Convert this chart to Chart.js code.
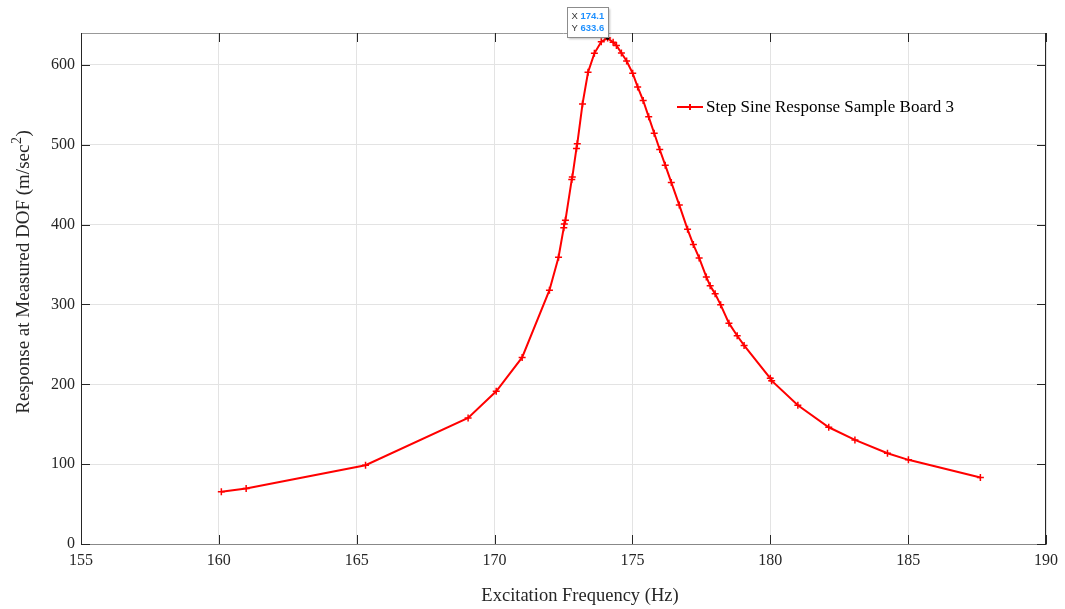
<!DOCTYPE html>
<html>
<head>
<meta charset="utf-8">
<script src="https://cdn.jsdelivr.net/npm/chart.js@4/dist/chart.umd.min.js"></script>
<style>
  html, body { margin: 0; padding: 0; background: #fff; }
  canvas { display: block; }
</style>
</head>
<body>
<canvas id="c" width="1065" height="609"></canvas>
<script>
// excitation frequency (Hz)
const freq = [160.09, 160.99, 165.32, 169.04, 170.06, 171.0, 171.99, 172.32, 172.51, 172.53,
  172.57, 172.80, 172.82, 172.97, 173.0, 173.19, 173.39, 173.62, 173.87, 174.1,
  174.30, 174.42, 174.60, 174.79, 175.01, 175.19, 175.39, 175.59, 175.79, 175.99,
  176.19, 176.41, 176.70, 177.0, 177.21, 177.42, 177.68, 177.82, 178.0, 178.20,
  178.50, 178.80, 179.05, 180.0, 180.05, 181.0, 182.12, 183.07, 184.25, 185.01, 187.62];
// response (m/sec^2)
const resp = [65.4, 69.5, 98.7, 157.9, 191.2, 233.7, 317.9, 359.1, 396.2, 400.8,
  405.4, 456.6, 459.5, 495.4, 501.2, 551.2, 590.8, 614.5, 629.1, 633.6,
  628.3, 624.5, 615, 605, 589.5, 572.5, 555.4, 535, 514.5, 494.1,
  474.5, 452.9, 424.5, 394.1, 375, 358.3, 334.5, 323.3, 313.3, 299.5,
  276.6, 260.8, 248.7, 207.5, 204.5, 173.7, 146.2, 130.4, 113.7, 105.4, 83.3];
const xTicks = [155, 160, 165, 170, 175, 180, 185, 190];
const yTicks = [0, 100, 200, 300, 400, 500, 600];
const seriesName = "Step Sine Response Sample Board 3";
const xTitle = "Excitation Frequency (Hz)";
const yTitle = ["Response at Measured DOF (m/sec", "2", ")"];
const tip = { x: 174.1, y: 633.6 };

const serif = "'Liberation Serif', 'Times New Roman', serif";

// box, inward ticks, axis titles, legend and datatip
const extras = {
  id: "extras",
  afterDraw(chart) {
    const ctx = chart.ctx;
    const a = chart.chartArea;
    const xs = chart.scales.x, ys = chart.scales.y;
    ctx.save();
    // top and right edges
    ctx.lineWidth = 1;
    ctx.strokeStyle = "#999";
    ctx.beginPath();
    ctx.moveTo(a.left, a.top + 0.5);
    ctx.lineTo(a.right, a.top + 0.5);
    ctx.stroke();
    ctx.strokeStyle = "#262626";
    ctx.beginPath();
    ctx.moveTo(a.right - 0.5, a.top);
    ctx.lineTo(a.right - 0.5, a.bottom);
    ctx.stroke();
    // ticks pointing in
    const tl = 9;
    ctx.beginPath();
    xTicks.forEach(v => {
      const px = Math.round(xs.getPixelForValue(v)) + 0.5;
      ctx.moveTo(px, a.bottom); ctx.lineTo(px, a.bottom - tl);
      ctx.moveTo(px, a.top); ctx.lineTo(px, a.top + tl);
    });
    yTicks.forEach(v => {
      const py = Math.round(ys.getPixelForValue(v)) + 0.5;
      ctx.moveTo(a.left, py); ctx.lineTo(a.left + tl, py);
      ctx.moveTo(a.right, py); ctx.lineTo(a.right - tl, py);
    });
    ctx.stroke();

    const fMain = "19px " + serif, fSup = "14px " + serif;
    // x title
    ctx.fillStyle = "#262626";
    ctx.font = "18.5px " + serif;
    ctx.textAlign = "center";
    ctx.textBaseline = "middle";
    ctx.fillText(xTitle, 580, 596);

    // y title with superscript
    ctx.save();
    ctx.translate(23, 272);
    ctx.rotate(-Math.PI / 2);
    ctx.textBaseline = "alphabetic";
    ctx.textAlign = "left";
    ctx.font = fMain;
    const w0 = ctx.measureText(yTitle[0]).width;
    const w2 = ctx.measureText(yTitle[2]).width;
    ctx.font = fSup;
    const w1 = ctx.measureText(yTitle[1]).width;
    const total = w0 + w1 + 1 + w2;
    let tx = -total / 2;
    ctx.font = fMain;
    ctx.fillText(yTitle[0], tx, 6);
    tx += w0 + 0.5;
    ctx.font = fSup;
    ctx.fillText(yTitle[1], tx, -2);
    tx += w1 + 0.5;
    ctx.font = fMain;
    ctx.fillText(yTitle[2], tx, 6);
    ctx.restore();

    // legend
    const lx = 677, ly = 107;
    ctx.strokeStyle = "#ff0000";
    ctx.lineWidth = 2;
    ctx.beginPath();
    ctx.moveTo(lx, ly); ctx.lineTo(lx + 26, ly);
    ctx.moveTo(lx + 13, ly - 3); ctx.lineTo(lx + 13, ly + 3);
    ctx.moveTo(lx + 10, ly); ctx.lineTo(lx + 16, ly);
    ctx.stroke();
    ctx.fillStyle = "#000";
    ctx.font = "17px " + serif;
    ctx.textBaseline = "middle";
    ctx.textAlign = "left";
    ctx.fillText(seriesName, lx + 29, ly + 1);

    // datatip
    const px = xs.getPixelForValue(tip.x), py = ys.getPixelForValue(tip.y);
    ctx.fillStyle = "#000";
    ctx.beginPath();
    ctx.arc(px, py, 1.8, 0, Math.PI * 2);
    ctx.fill();
    const bw = 41, bh = 30;
    const bx = Math.round(px - bw) + 0.5, by = Math.round(py - bh - 1) + 0.5;
    ctx.shadowColor = "rgba(0,0,0,0.25)";
    ctx.shadowBlur = 2;
    ctx.shadowOffsetX = 1; ctx.shadowOffsetY = 1;
    ctx.fillStyle = "#fff";
    ctx.fillRect(bx, by, bw, bh);
    ctx.shadowColor = "transparent";
    ctx.strokeStyle = "#8c8c8c";
    ctx.lineWidth = 1;
    ctx.strokeRect(bx, by, bw, bh);
    ctx.font = "9.5px 'Liberation Sans', Arial, sans-serif";
    ctx.fillStyle = "#333";
    ctx.fillText("X", bx + 4, by + 9);
    ctx.fillText("Y", bx + 4, by + 21);
    ctx.font = "bold 9.5px 'Liberation Sans', Arial, sans-serif";
    ctx.fillStyle = "#1e90ff";
    ctx.fillText(tip.x.toFixed(1), bx + 13, by + 9);
    ctx.fillText(tip.y.toFixed(1), bx + 13, by + 21);
    ctx.restore();
  }
};

new Chart(document.getElementById("c"), {
  type: "scatter",
  data: {
    datasets: [{
      label: seriesName,
      data: freq.map((f, i) => ({ x: f, y: resp[i] })),
      showLine: true,
      borderColor: "#ff0000",
      backgroundColor: "#ff0000",
      borderWidth: 2,
      pointStyle: "cross",
      pointRadius: 3.5,
      pointBorderWidth: 1.5,
      pointBorderColor: "#ff0000",
      tension: 0
    }]
  },
  options: {
    responsive: false,
    animation: false,
    events: [],
    layout: { padding: { top: 33, right: 18, left: 0, bottom: 0 } },
    plugins: { legend: { display: false }, tooltip: { enabled: false } },
    scales: {
      x: {
        type: "linear",
        min: 155, max: 190,
        afterBuildTicks: s => { s.ticks = xTicks.map(v => ({ value: v })); },
        afterFit: s => { s.height = 65; },
        grid: { color: "#e3e3e3", drawTicks: false },
        border: { color: "#888", width: 1 },
        ticks: {
          padding: 7,
          color: "#262626",
          font: { family: serif, size: 16 },
          maxRotation: 0
        },
        title: { display: false }
      },
      y: {
        min: 0, max: 640,
        afterBuildTicks: s => { s.ticks = yTicks.map(v => ({ value: v })); },
        afterFit: s => { s.width = 81; },
        grid: { color: "#e3e3e3", drawTicks: false },
        border: { color: "#262626", width: 1 },
        ticks: {
          padding: 6,
          color: "#262626",
          font: { family: serif, size: 16 }
        },
        title: { display: false }
      }
    }
  },
  plugins: [extras]
});
</script>
</body>
</html>
